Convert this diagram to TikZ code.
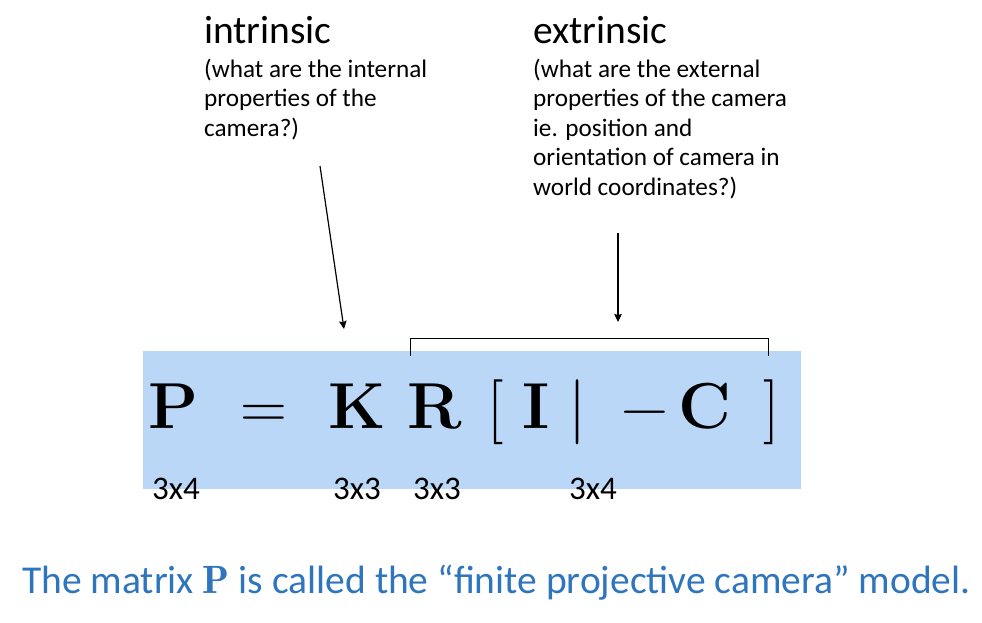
\documentclass[tikz,border=0pt]{standalone}
\usepackage{fontspec}
\usepackage{amsmath}
\usetikzlibrary{arrows.meta}
\newfontfamily\carlito{Carlito}
\definecolor{bandblue}{RGB}{186,215,248}
\definecolor{capblue}{RGB}{46,117,190}

\begin{document}
\begin{tikzpicture}[x=1pt,y=-1pt,
	pile/.style={-{Stealth[length=8pt,width=7.5pt,inset=1pt]}, line width=1.2pt},
	head/.style={font=\carlito\fontsize{39.5}{47}\selectfont, anchor=base west, inner sep=0pt},
	note/.style={font=\carlito\fontsize{25.2}{29.5}\selectfont, anchor=base west, inner sep=0pt, align=left},
	dim/.style={font=\carlito\fontsize{33}{38}\selectfont, anchor=base west, inner sep=0pt},
	sym/.style={font=\fontsize{65}{78}\selectfont, anchor=base, inner sep=0pt}]

	\useasboundingbox (0,0) rectangle (982,622);

	% band behind the formula
	\fill[bandblue] (143,351) rectangle (801,489);

	% Labels (notes sit on the baseline of their last line)
	\node[head] (intr) at (204,43) {intrinsic};
	\node[note] (intrq) at (204,136) {(what are the internal\\properties of the\\camera?)};
	\node[head] (extr) at (533,43) {extrinsic};
	\node[note] (extrq) at (533,195) {(what are the external\\properties of the camera\\ie. position and\\orientation of camera in\\world coordinates?)};

	% Formula
	\node[sym] (P) at (173.5,428) {\textbf{P}};
	\node[sym] (eq) at (263.5,428) {=};
	\node[sym] (K) at (357,428) {\textbf{K}};
	\node[sym] (R) at (435,428) {\textbf{R}};
	\node[sym] (lb) at (496,428) {[};
	\node[sym] (I) at (536.5,428) {\textbf{I}};
	\node[sym] (bar) at (578,428) {|};
	\node[sym] (mi) at (645,428) {−};
	\node[sym] (C) at (704.5,428) {\textbf{C}};
	\node[sym] (rb) at (772,428) {]};

	% Sizes
	\node[dim] (dP) at (152,499) {3x4};
	\node[dim] (dK) at (333,499) {3x3};
	\node[dim] (dR) at (413,499) {3x3};
	\node[dim] (dE) at (569,499) {3x4};

	% Arrows and bracket
	\coordinate (itail) at (320,166);
	\coordinate (ihead) at (344,329);
	\coordinate (etail) at (618,233);
	\coordinate (ehead) at (618,322);
	\coordinate (bl) at (410,356);
	\coordinate (br) at (768,356);
	\draw[pile] (itail) -- (ihead);
	\draw[pile] (etail) -- (ehead);
	\draw[line width=1pt] (bl) -- ++(0,-18) -| (br);

	% Caption
	\node[head, text=capblue] (cap) at (22,593) {The matrix $\mathbf{P}$ is called the “finite projective camera” model.};

\end{tikzpicture}
\end{document}
